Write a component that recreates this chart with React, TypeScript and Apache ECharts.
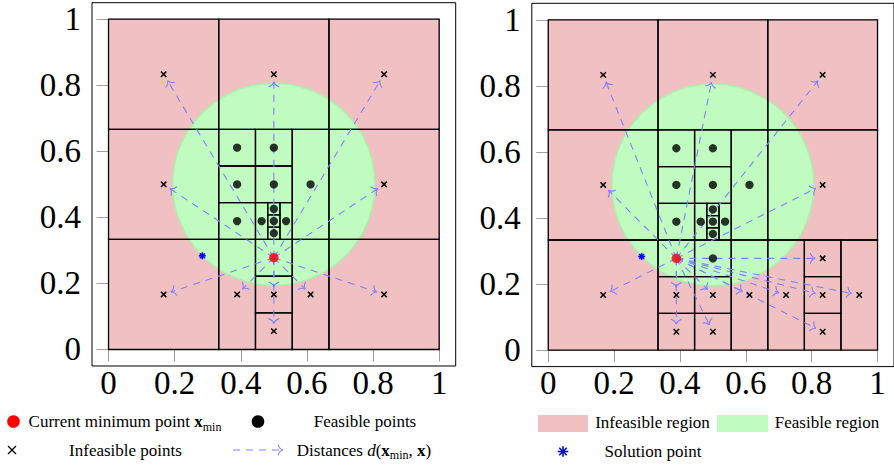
import React, { useEffect, useRef } from 'react';
import * as echarts from 'echarts';

// ---------------- data ----------------
const tickValues = [0, 0.2, 0.4, 0.6, 0.8, 1];
const axisMin = -0.05;
const axisMax = 1.05;

// domain (infeasible background) and feasible disc [cx, cy, r]
const domainRect = [[0, 0, 1, 1]];
const feasibleDisc = [[0.5, 0.5, 0.306]];

// partition cells [x0, y0, x1, y1] shared by both panels (top and middle rows)
const cellsShared = [
  [0, 0.6667, 0.3333, 1],
  [0.3333, 0.6667, 0.6667, 1],
  [0.6667, 0.6667, 1, 1],
  [0, 0.3333, 0.3333, 0.6667],
  [0.6667, 0.3333, 1, 0.6667],
  [0.3333, 0.5556, 0.4444, 0.6667],
  [0.3333, 0.4444, 0.4444, 0.5556],
  [0.3333, 0.3333, 0.4444, 0.4444],
  [0.4444, 0.5556, 0.5556, 0.6667],
  [0.4444, 0.4444, 0.5556, 0.5556],
  [0.4444, 0.3333, 0.4815, 0.4444],
  [0.5185, 0.3333, 0.5556, 0.4444],
  [0.4815, 0.3333, 0.5185, 0.3704],
  [0.4815, 0.3704, 0.5185, 0.4074],
  [0.4815, 0.4074, 0.5185, 0.4444],
  [0.5556, 0.3333, 0.6667, 0.6667],
];
const cellsLeftBottom = [
  [0, 0, 0.3333, 0.3333],
  [0.6667, 0, 1, 0.3333],
  [0.3333, 0, 0.4444, 0.3333],
  [0.5556, 0, 0.6667, 0.3333],
  [0.4444, 0.2222, 0.5556, 0.3333],
  [0.4444, 0.1111, 0.5556, 0.2222],
  [0.4444, 0, 0.5556, 0.1111],
];
const cellsRightBottom = [
  [0, 0, 0.3333, 0.3333],
  [0.3333, 0.2222, 0.4444, 0.3333],
  [0.3333, 0.1111, 0.4444, 0.2222],
  [0.3333, 0, 0.4444, 0.1111],
  [0.4444, 0.2222, 0.5556, 0.3333],
  [0.4444, 0.1111, 0.5556, 0.2222],
  [0.4444, 0, 0.5556, 0.1111],
  [0.5556, 0, 0.6667, 0.3333],
  [0.6667, 0, 0.7778, 0.3333],
  [0.7778, 0.2222, 0.8889, 0.3333],
  [0.7778, 0.1111, 0.8889, 0.2222],
  [0.7778, 0, 0.8889, 0.1111],
  [0.8889, 0, 1, 0.3333],
];

const feasibleLeft = [
  [0.3889, 0.6111], [0.5, 0.6111],
  [0.3889, 0.5], [0.5, 0.5], [0.6111, 0.5],
  [0.3889, 0.3889], [0.463, 0.3889], [0.5, 0.3889], [0.537, 0.3889],
  [0.5, 0.4259], [0.5, 0.3519],
];
const feasibleRight = [
  [0.3889, 0.6111], [0.5, 0.6111],
  [0.3889, 0.5], [0.5, 0.5], [0.6111, 0.5],
  [0.3889, 0.3889], [0.463, 0.3889], [0.5, 0.3889], [0.537, 0.3889],
  [0.5, 0.4259], [0.5, 0.3519],
  [0.5, 0.2778],
];
const infeasibleLeft = [
  [0.1667, 0.8333], [0.5, 0.8333], [0.8333, 0.8333],
  [0.1667, 0.5], [0.8333, 0.5],
  [0.1667, 0.1667], [0.3889, 0.1667], [0.5, 0.1667], [0.6111, 0.1667], [0.8333, 0.1667],
  [0.5, 0.0556],
];
const infeasibleRight = [
  [0.1667, 0.8333], [0.5, 0.8333], [0.8333, 0.8333],
  [0.1667, 0.5], [0.8333, 0.5],
  [0.1667, 0.1667],
  [0.3889, 0.1667], [0.3889, 0.0556],
  [0.5, 0.1667], [0.5, 0.0556],
  [0.6111, 0.1667], [0.7222, 0.1667],
  [0.8333, 0.2778], [0.8333, 0.1667], [0.8333, 0.0556],
  [0.9444, 0.1667],
];
const xminLeft = [0.5, 0.2778];
const xminRight = [0.3889, 0.2778];
const solutionPoint = [0.2836, 0.2836];

// ---------------- style ----------------
const SERIF = '"Liberation Serif", "Times New Roman", serif';
const PINK = '#F0C0C2';
const GREEN = '#C0FBC0';
const GREEN_EDGE = '#AAF2AA';
const ARROW = '#8080FF';
const TICK = '#A0A0A0';
const RED = '#FF0000';
const BLUE = '#0000FF';

function arrowParts(x0: number, y0: number, x1: number, y1: number, shorten: number) {
  const dx = x1 - x0, dy = y1 - y0;
  const L = Math.hypot(dx, dy) || 1;
  const ux = dx / L, uy = dy / L;
  const nx = -uy, ny = ux;
  const tx = x1 - ux * shorten, ty = y1 - uy * shorten;
  const back = 5, side = 5.4;
  const arm = (s: number) => ({
    type: 'bezierCurve',
    shape: {
      x1: tx, y1: ty,
      x2: tx - ux * back + nx * side * s, y2: ty - uy * back + ny * side * s,
      cpx1: tx - ux * back * 0.65 + nx * side * 0.12 * s,
      cpy1: ty - uy * back * 0.65 + ny * side * 0.12 * s,
    },
    style: { stroke: ARROW, lineWidth: 1.1, fill: 'none' },
  });
  return [
    {
      type: 'line',
      shape: { x1: x0, y1: y0, x2: tx, y2: ty },
      style: { stroke: ARROW, lineWidth: 1.1, lineDash: [7, 6] },
    },
    arm(1),
    arm(-1),
  ];
}

function crossParts(cx: number, cy: number, h: number, w: number) {
  return [
    { type: 'line', shape: { x1: cx - h, y1: cy - h, x2: cx + h, y2: cy + h }, style: { stroke: '#000', lineWidth: w } },
    { type: 'line', shape: { x1: cx - h, y1: cy + h, x2: cx + h, y2: cy - h }, style: { stroke: '#000', lineWidth: w } },
  ];
}

function starParts(cx: number, cy: number, h: number, w: number) {
  const d = h * 0.7071;
  return [
    { type: 'line', shape: { x1: cx - h, y1: cy, x2: cx + h, y2: cy }, style: { stroke: BLUE, lineWidth: w } },
    { type: 'line', shape: { x1: cx, y1: cy - h, x2: cx, y2: cy + h }, style: { stroke: BLUE, lineWidth: w } },
    { type: 'line', shape: { x1: cx - d, y1: cy - d, x2: cx + d, y2: cy + d }, style: { stroke: BLUE, lineWidth: w } },
    { type: 'line', shape: { x1: cx - d, y1: cy + d, x2: cx + d, y2: cy - d }, style: { stroke: BLUE, lineWidth: w } },
  ];
}

function rectFrom(api: any) {
  const a = api.coord([api.value(0), api.value(1)]);
  const b = api.coord([api.value(2), api.value(3)]);
  return {
    x: Math.min(a[0], b[0]), y: Math.min(a[1], b[1]),
    width: Math.abs(b[0] - a[0]), height: Math.abs(b[1] - a[1]),
  };
}

function panelSeries(p: number, cells: number[][], feasible: number[][], infeasible: number[][], xmin: number[]) {
  const ax = { xAxisIndex: 2 * p, yAxisIndex: 2 * p, silent: true, clip: false };
  const arrows = infeasible.map((q) => [xmin[0], xmin[1], q[0], q[1]]);
  return [
    {
      ...ax, type: 'custom', z: 1, data: domainRect, encode: { x: [0, 2], y: [1, 3] },
      renderItem: (_: any, api: any) => ({ type: 'rect', shape: rectFrom(api), style: { fill: PINK, stroke: PINK, lineWidth: 1 } }),
    },
    {
      ...ax, type: 'custom', z: 2, data: feasibleDisc, encode: { x: 0, y: 1 },
      renderItem: (_: any, api: any) => {
        const c = api.coord([api.value(0), api.value(1)]);
        const s = api.size([api.value(2), api.value(2)]);
        return { type: 'circle', shape: { cx: c[0], cy: c[1], r: (s[0] + s[1]) / 2 }, style: { fill: GREEN, stroke: GREEN_EDGE, lineWidth: 1.5 } };
      },
    },
    {
      ...ax, type: 'custom', z: 3, data: cells, encode: { x: [0, 2], y: [1, 3] },
      renderItem: (_: any, api: any) => ({ type: 'rect', shape: rectFrom(api), style: { fill: 'none', stroke: '#000', lineWidth: 1.3 } }),
    },
    {
      ...ax, type: 'custom', z: 4, data: arrows, encode: { x: [0, 2], y: [1, 3] },
      renderItem: (_: any, api: any) => {
        const a = api.coord([api.value(0), api.value(1)]);
        const b = api.coord([api.value(2), api.value(3)]);
        return { type: 'group', children: arrowParts(a[0], a[1], b[0], b[1], 7.5) };
      },
    },
    {
      ...ax, type: 'custom', z: 5, data: infeasible, encode: { x: 0, y: 1 },
      renderItem: (_: any, api: any) => {
        const c = api.coord([api.value(0), api.value(1)]);
        return { type: 'group', children: crossParts(c[0], c[1], 2.7, 1.5) };
      },
    },
    {
      ...ax, type: 'scatter', z: 5, data: feasible, symbol: 'circle', symbolSize: 8.3,
      itemStyle: { color: '#000' },
    },
    {
      ...ax, type: 'scatter', z: 6, data: [xmin], symbol: 'circle', symbolSize: 9.5,
      itemStyle: { color: RED },
    },
    {
      ...ax, type: 'custom', z: 6, data: [solutionPoint], encode: { x: 0, y: 1 },
      renderItem: (_: any, api: any) => {
        const c = api.coord([api.value(0), api.value(1)]);
        return { type: 'group', children: starParts(c[0], c[1], 3.5, 1.5) };
      },
    },
  ];
}

function axis(kind: 'x' | 'y', gridIndex: number, position: string, labels: boolean) {
  return {
    type: 'value', gridIndex, position, min: axisMin, max: axisMax,
    axisLine: { show: false },
    splitLine: { show: false },
    axisTick: { show: true, inside: true, length: 12, customValues: tickValues, lineStyle: { color: TICK, width: 1 } },
    axisLabel: labels
      ? { show: true, customValues: tickValues, margin: kind === 'x' ? 0 : 11, fontSize: 33, fontFamily: SERIF, color: '#000' }
      : { show: false },
  };
}

function legendText(cx: number, cy: number, text: string) {
  return {
    type: 'text', x: cx, y: cy, silent: true,
    style: {
      text,
      textAlign: 'center', textVerticalAlign: 'middle',
      fontSize: 17, fontFamily: SERIF, fill: '#000',
      rich: {
        n: { fontSize: 17, fontFamily: SERIF },
        b: { fontSize: 17, fontFamily: SERIF, fontWeight: 'bold' },
        i: { fontSize: 17, fontFamily: SERIF, fontStyle: 'italic' },
        s: { fontSize: 12, fontFamily: SERIF, padding: [10, 0, 0, 0] },
      },
    },
  };
}

export default function App() {
  const ref = useRef<HTMLDivElement>(null);
  useEffect(() => {
    if (!ref.current) return;
    const chart = echarts.init(ref.current, undefined, { renderer: 'svg' });
    const legendGraphics: any[] = [
      { type: 'circle', shape: { cx: 13.5, cy: 421.5, r: 6.3 }, style: { fill: RED }, silent: true },
      legendText(125, 421.5, '{n|Current minimum point }{b|x}{s|min}'),
      { type: 'circle', shape: { cx: 258, cy: 421.5, r: 6.3 }, style: { fill: '#000' }, silent: true },
      legendText(365, 421.5, '{n|Feasible points}'),
      { type: 'group', silent: true, children: crossParts(12, 450, 4, 1.2) },
      legendText(125.5, 450, '{n|Infeasible points}'),
      { type: 'group', silent: true, children: arrowParts(233, 450, 283, 450, 0) },
      legendText(364, 450, '{n|Distances }{i|d}{n|(}{b|x}{s|min}{n|, }{b|x}{n|)}'),
      { type: 'rect', shape: { x: 538, y: 415, width: 50, height: 17 }, style: { fill: PINK }, silent: true },
      legendText(652.5, 422, '{n|Infeasible region}'),
      { type: 'rect', shape: { x: 717, y: 415, width: 51, height: 17 }, style: { fill: GREEN }, silent: true },
      legendText(827, 422, '{n|Feasible region}'),
      { type: 'group', silent: true, children: starParts(563, 451.5, 5.3, 1.6) },
      legendText(653, 451, '{n|Solution point}'),
    ];
    chart.setOption({
      animation: false,
      backgroundColor: '#fff',
      grid: [
        { left: 92, top: 2.7, width: 363.7, height: 363.3, show: true, borderColor: '#000', borderWidth: 1, backgroundColor: 'transparent' },
        { left: 531.8, top: 3.3, width: 363.4, height: 363.3, show: true, borderColor: '#000', borderWidth: 1, backgroundColor: 'transparent' },
      ],
      xAxis: [axis('x', 0, 'bottom', true), axis('x', 0, 'top', false), axis('x', 1, 'bottom', true), axis('x', 1, 'top', false)],
      yAxis: [axis('y', 0, 'left', true), axis('y', 0, 'right', false), axis('y', 1, 'left', true), axis('y', 1, 'right', false)],
      series: [
        ...panelSeries(0, [...cellsShared, ...cellsLeftBottom], feasibleLeft, infeasibleLeft, xminLeft),
        ...panelSeries(1, [...cellsShared, ...cellsRightBottom], feasibleRight, infeasibleRight, xminRight),
      ],
      graphic: legendGraphics,
    });
    return () => chart.dispose();
  }, []);
  return <div ref={ref} style={{ position: 'absolute', left: 0, top: 0, width: 894, height: 465 }} />;
}
